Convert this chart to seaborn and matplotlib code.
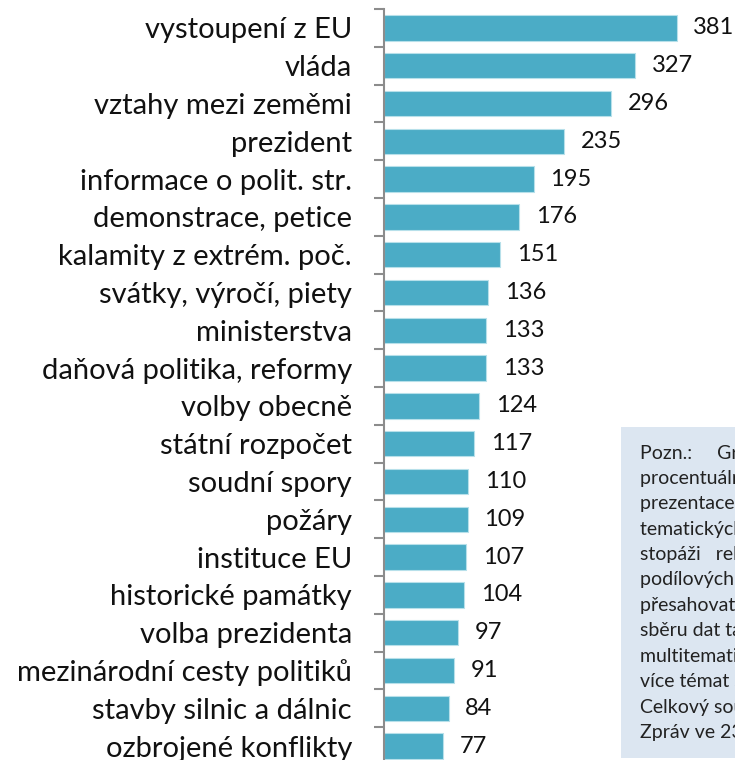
import numpy as np
import pandas as pd
import matplotlib.pyplot as plt
import matplotlib.ticker as mticker
from matplotlib.patches import Rectangle
import seaborn as sns

# Data
topics = [
    "vystoupení z EU", "vláda", "vztahy mezi zeměmi", "prezident",
    "informace o polit. str.", "demonstrace, petice", "kalamity z extrém. poč.",
    "svátky, výročí, piety", "ministerstva", "daňová politika, reformy",
    "volby obecně", "státní rozpočet", "soudní spory", "požáry",
    "instituce EU", "historické památky", "volba prezidenta",
    "mezinárodní cesty politiků", "stavby silnic a dálnic", "ozbrojené konflikty",
]
counts = [381, 327, 296, 235, 195, 176, 151, 136, 133, 133,
          124, 117, 110, 109, 107, 104, 97, 91, 84, 77]

# note box text (the reference cuts it at the right edge)
note_lines = [
    "Pozn.:     Graf zobrazuje absolutní",
    "procentuální zastoupení",
    "prezentace jednotlivých",
    "tematických okruhů ve",
    "stopáži   relací zpravodajství",
    "podílových součtů může",
    "přesahovat 100 %, neboť při",
    "sběru dat tak bylo",
    "multitematických příspěvků",
    "více témat současně.",
    "Celkový součet příspěvků",
    "Zpráv ve 23 hodin",
]

BAR_COLOR = "#4BACC6"
AXIS_GRAY = "#8C8C8C"

df = pd.DataFrame({"topic": topics, "count": counts})

sns.set_style("white")
plt.rcParams["font.family"] = ["Lato", "DejaVu Sans"]

W, H = 735, 760
fig = plt.figure(figsize=(W / 100, H / 100), dpi=100)

# axes placed in pixel terms so the picture is cropped like the reference
px_per_unit = 0.768
x_max = 400
left_px, top_px, row_px = 384, 9, 37.8
n = len(topics)
bottom_px = top_px + n * row_px
ax = fig.add_axes([left_px / W, 1 - bottom_px / H,
                   x_max * px_per_unit / W, n * row_px / H])

sns.barplot(data=df, x="count", y="topic", orient="h", color=BAR_COLOR,
            saturation=1, width=0.675, edgecolor="#B7E0EA", linewidth=0.8,
            ax=ax)
ax.set_xlim(0, x_max)
ax.set_ylim(n - 0.5, -0.5)
ax.bar_label(ax.containers[0], padding=12, fontsize=17, color="#111111")

ax.set_xlabel("")
ax.set_ylabel("")
ax.set_xticks([])
for s in ["top", "right", "bottom"]:
    ax.spines[s].set_visible(False)
ax.spines["left"].set_color(AXIS_GRAY)
ax.spines["left"].set_linewidth(1.5)

ax.yaxis.set_minor_locator(mticker.FixedLocator(np.arange(-0.5, n, 1)))
ax.tick_params(axis="y", which="major", length=0, pad=23, labelsize=21,
               labelcolor="#111111")
ax.tick_params(axis="y", which="minor", length=7, width=1.5,
               color=AXIS_GRAY, left=True)

# note box on the right, cut off by the figure edge
fig.patches.append(Rectangle((621 / W, 1 - 758 / H), 200 / W, (758 - 427) / H,
                             transform=fig.transFigure, facecolor="#DCE6F1",
                             edgecolor="none", zorder=0))
for i, line in enumerate(note_lines):
    fig.text(640 / W, 1 - (453 + i * 25.4) / H, line, fontsize=14,
             color="#222222", va="center", ha="left")

fig.savefig("out.png", dpi=100)
